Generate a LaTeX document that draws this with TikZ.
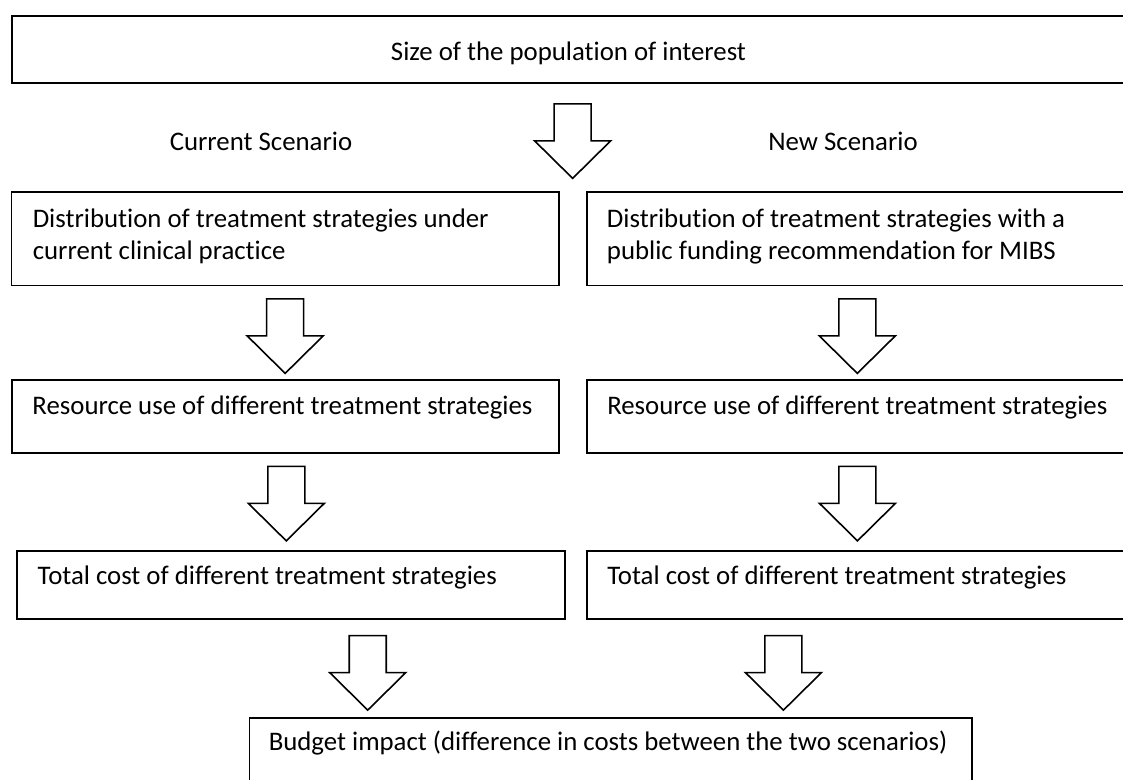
\documentclass[tikz,border=0pt]{standalone}
\usepackage{fontspec}
\setmainfont{Carlito}[Ligatures=NoCommon]
\usetikzlibrary{calc}

\tikzset{
    box/.style={draw, line width=1.4pt, anchor=north west, inner sep=0pt},
    boxtext/.style={anchor=base west, align=left, inner sep=0pt},
    pics/downarrow/.style={code={
        \draw[line width=1.2pt, fill=white]
            (-18.5,0) -- (18.5,0) -- (18.5,37) -- (38,37) -- (0,74.5)
            -- (-38,37) -- (-18.5,37) -- cycle;
    }}
}

\begin{document}
\begin{tikzpicture}[x=0.75pt, y=-0.75pt, font=\fontsize{20.1}{24.5}\selectfont]
    \useasboundingbox (0,0) rectangle (1123,779);
    \clip (0,0) rectangle (1123,779);

    % population
    \node[box, minimum width=843pt, minimum height=50.25pt] (pop) at (10.7,15) {};
    \node[anchor=base, inner sep=0pt] (poptxt) at (568.5,60) {Size of the population of interest};

    % scenario headings
    \node[anchor=base, inner sep=0pt] (curlabel) at (261,150) {Current Scenario};
    \node[anchor=base, inner sep=0pt] (newlabel) at (843,150) {New Scenario};

    % current scenario column
    \node[box, minimum width=410.6pt, minimum height=70.35pt] (curdist) at (10.5,190.7) {};
    \node[box, minimum width=410.5pt, minimum height=54.5pt] (curres) at (10.7,379.3) {};
    \node[box, minimum width=411pt, minimum height=50.8pt] (curcost) at (15.8,550) {};

    % new scenario column
    \node[box, minimum width=406pt, minimum height=70.35pt] (newdist) at (585.7,190.7) {};
    \node[box, minimum width=405.75pt, minimum height=54.5pt] (newres) at (586,379.3) {};
    \node[box, minimum width=405.75pt, minimum height=50.8pt] (newcost) at (586,550) {};

    % budget impact
    \node[box, minimum width=542.1pt, minimum height=60pt] (impact) at (248.5,716.7) {};

    % box texts (two-line nodes sit on their last baseline)
    \node[boxtext] (curdisttxt) at ($(curdist.north west)+(22,69.2)$)
        {Distribution of treatment strategies under\\current clinical practice};
    \node[boxtext] (newdisttxt) at ($(newdist.north west)+(21,69.2)$)
        {Distribution of treatment strategies with a\\public funding recommendation for MIBS};
    \node[boxtext] (currestxt) at ($(curres.north west)+(21.5,35)$)
        {Resource use of different treatment strategies};
    \node[boxtext] (newrestxt) at ($(newres.north west)+(21,35)$)
        {Resource use of different treatment strategies};
    \node[boxtext] (curcosttxt) at ($(curcost.north west)+(21.5,34)$)
        {Total cost of different treatment strategies};
    \node[boxtext] (newcosttxt) at ($(newcost.north west)+(21,34)$)
        {Total cost of different treatment strategies};
    \node[boxtext] (impacttxt) at ($(impact.north west)+(20,33.5)$)
        {Budget impact (difference in costs between the two scenarios)};

    % block arrows
    \pic at ($(pop.south)+(-1,20)$) {downarrow};
    \pic at ($(curdist.south)+(0,12.5)$) {downarrow};
    \pic at ($(newdist.south)+(0,12.5)$) {downarrow};
    \pic at ($(curres.south)+(1,12.5)$) {downarrow};
    \pic at ($(newres.south)+(0,12.5)$) {downarrow};
    \pic at ($(curcost.south)+(77,16)$) {downarrow};
    \pic at ($(newcost.south)+(-74,16)$) {downarrow};
\end{tikzpicture}
\end{document}
